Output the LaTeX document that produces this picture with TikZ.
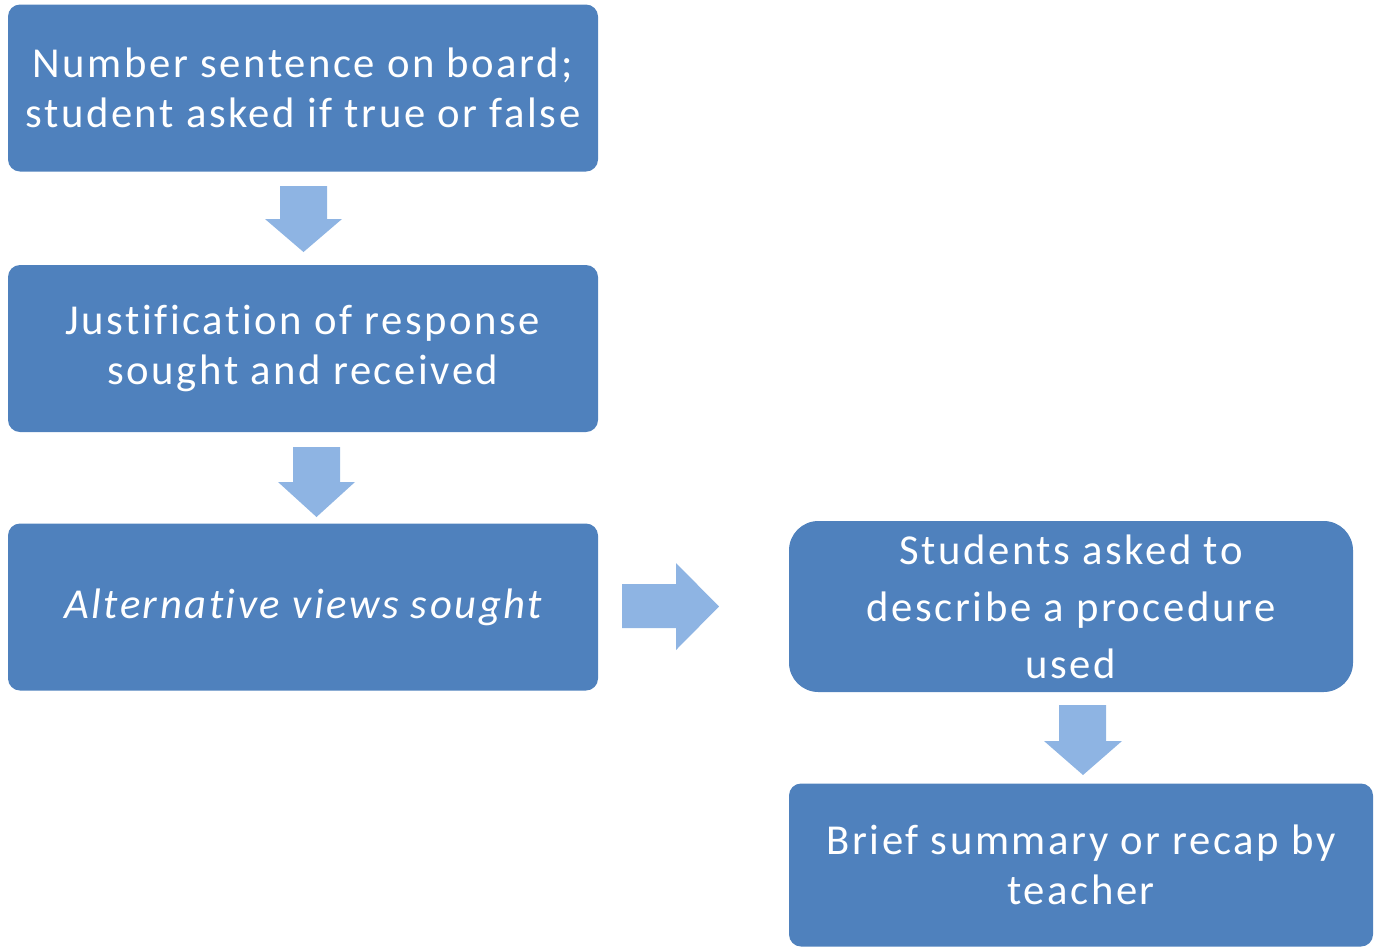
\documentclass[tikz,border=0pt]{standalone}
\usepackage{fontspec}
\setmainfont{Carlito}
\newfontfamily\boxfont[LetterSpace=6,Ligatures={NoCommon,NoRare}]{Carlito}
\definecolor{boxblue}{HTML}{4F81BD}
\definecolor{arrowblue}{HTML}{8EB4E3}
\begin{document}
\begin{tikzpicture}[x=0.75pt,y=-0.75pt,
  box/.style={fill=boxblue, text=white, rounded corners=9pt, align=center, inner sep=0pt,
    minimum width=442.5pt, minimum height=125.25pt, font=\boxfont\fontsize{32}{37.5}\selectfont},
  blockarrow/.style={fill=arrowblue}]
\useasboundingbox (0,0) rectangle (1374,947);
\node[box] (b1) at (303,88) {Number sentence on board;\\student asked if true or false};
\node[box] (b2) at (303,348.5) {Justification of response\\sought and received};
\node[box] (b3) at (303,607) {\itshape Alternative views sought};
\node[box, rounded corners=22pt, minimum width=423pt, minimum height=128.25pt,
  font=\boxfont\fontsize{32}{42.75}\selectfont] (b4) at (1071,606.5) {Students asked to\\describe a procedure\\used};
\node[box, minimum width=438pt, minimum height=122.25pt] (b5) at (1081,865) {Brief summary or recap by\\teacher};
% block arrows
\fill[blockarrow] (280,186) -- (327,186) -- (327,219) -- (342,219) -- (303.5,252) -- (265,219) -- (280,219) -- cycle;
\fill[blockarrow] (293,447) -- (340,447) -- (340,482) -- (355,482) -- (316.5,517) -- (278,482) -- (293,482) -- cycle;
\fill[blockarrow] (622,584) -- (676,584) -- (676,563) -- (719,606.5) -- (676,650) -- (676,628) -- (622,628) -- cycle;
\fill[blockarrow] (1059,705) -- (1106,705) -- (1106,741) -- (1122,741) -- (1083,775) -- (1044,741) -- (1059,741) -- cycle;
\end{tikzpicture}
\end{document}
